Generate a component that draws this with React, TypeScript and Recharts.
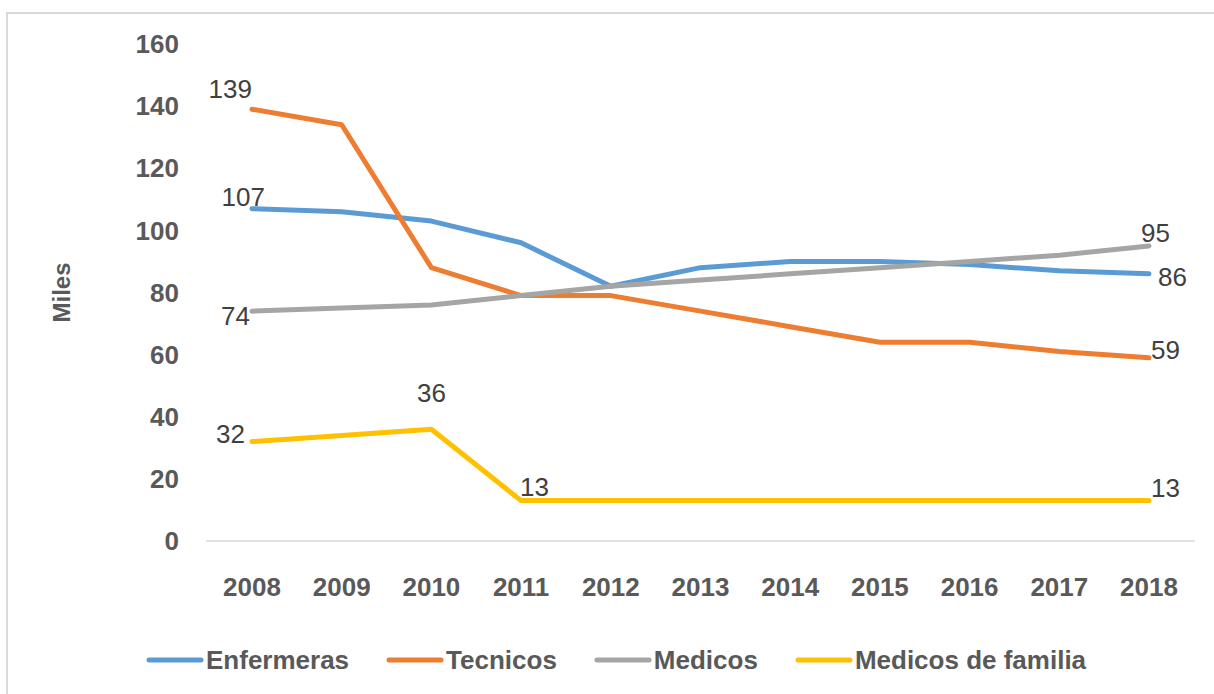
import { LineChart, Line, XAxis, YAxis, Legend, LabelList } from "recharts";

const years = ["2008", "2009", "2010", "2011", "2012", "2013", "2014", "2015", "2016", "2017", "2018"];
const enfermeras = [107, 106, 103, 96, 82, 88, 90, 90, 89, 87, 86];
const tecnicos = [139, 134, 88, 79, 79, 74, 69, 64, 64, 61, 59];
const medicos = [74, 75, 76, 79, 82, 84, 86, 88, 90, 92, 95];
const medicosFamilia = [32, 34, 36, 13, 13, 13, 13, 13, 13, 13, 13];
const yTicks = [0, 20, 40, 60, 80, 100, 120, 140, 160];

const series = [
  { key: "enfermeras", name: "Enfermeras", color: "#5B9BD5" },
  { key: "tecnicos", name: "Tecnicos", color: "#ED7D31" },
  { key: "medicos", name: "Medicos", color: "#A5A5A5" },
  { key: "familia", name: "Medicos de familia", color: "#FFC000" },
];

// which points carry a value label, and where it sits relative to the point
type LabelPos = { anchor: "start" | "middle" | "end"; dx: number; dy: number };
const labelSpots: Record<string, Record<number, LabelPos>> = {
  enfermeras: { 0: { anchor: "end", dx: 13, dy: -12 }, 10: { anchor: "start", dx: 9, dy: 3 } },
  tecnicos: { 0: { anchor: "end", dx: 0, dy: -20 }, 10: { anchor: "start", dx: 2, dy: -8 } },
  medicos: { 0: { anchor: "end", dx: -2, dy: 5 }, 10: { anchor: "start", dx: -8, dy: -13 } },
  familia: {
    0: { anchor: "end", dx: -7, dy: -8 },
    2: { anchor: "middle", dx: 0, dy: -36 },
    3: { anchor: "start", dx: -1, dy: -14 },
    10: { anchor: "start", dx: 2, dy: -13 },
  },
};

const data = years.map((year, i) => ({
  year,
  enfermeras: enfermeras[i],
  tecnicos: tecnicos[i],
  medicos: medicos[i],
  familia: medicosFamilia[i],
}));

const FONT = "'Liberation Sans', Arial, sans-serif";
const TEXT = "#595959";

function makeLabel(seriesKey: string) {
  return (props: any) => {
    const spot = labelSpots[seriesKey][props.index];
    if (!spot) return null;
    return (
      <text
        x={props.x + spot.dx}
        y={props.y + spot.dy + 9}
        textAnchor={spot.anchor}
        fontFamily={FONT}
        fontSize={26}
        fill="#404040"
      >
        {props.value}
      </text>
    );
  };
}

function MilesLabel(props: any) {
  const vb = props.viewBox;
  const cx = vb.x + 4;
  const cy = vb.y + vb.height / 2;
  return (
    <text
      x={cx}
      y={cy}
      transform={`rotate(-90, ${cx}, ${cy})`}
      textAnchor="middle"
      dominantBaseline="central"
      fontFamily={FONT}
      fontSize={24}
      fontWeight="bold"
      fill={TEXT}
    >
      Miles
    </text>
  );
}

function LegendContent() {
  return (
    <div
      style={{
        display: "flex",
        alignItems: "center",
        height: 30,
        paddingLeft: 146,
        fontFamily: FONT,
        fontSize: 26,
        fontWeight: "bold",
        color: TEXT,
      }}
    >
      {series.map((s) => (
        <div key={s.key} style={{ display: "flex", alignItems: "center", marginRight: 37 }}>
          <svg width={58} height={10}>
            <line x1={3} y1={5} x2={55} y2={5} stroke={s.color} strokeWidth={5} strokeLinecap="round" />
          </svg>
          <span style={{ marginLeft: 2, lineHeight: "30px" }}>{s.name}</span>
        </div>
      ))}
    </div>
  );
}

export default function App() {
  return (
    <div style={{ position: "absolute", left: 0, top: 0, width: 1214, height: 694, overflow: "hidden", background: "#fff" }}>
      <div
        style={{
          position: "absolute",
          left: 6,
          top: 12,
          width: 1240,
          height: 720,
          border: "2px solid #d9d9d9",
        }}
      />
      <div style={{ position: "absolute", left: 0, top: 0 }}>
        <LineChart width={1214} height={694} data={data} margin={{ top: 44, right: 19, bottom: 19, left: 57 }}>
          <XAxis
            dataKey="year"
            padding={{ left: 46, right: 46 }}
            height={104}
            tickLine={false}
            tickSize={0}
            tickMargin={37}
            axisLine={{ stroke: "#d9d9d9", strokeWidth: 1.5 }}
            tick={{ fill: TEXT, fontFamily: FONT, fontSize: 26, fontWeight: "bold" }}
          />
          <YAxis
            width={149}
            domain={[0, 160]}
            ticks={yTicks}
            interval={0}
            axisLine={false}
            tickLine={false}
            tickSize={0}
            tickMargin={27}
            tick={{ fill: TEXT, fontFamily: FONT, fontSize: 26, fontWeight: "bold" }}
            label={<MilesLabel />}
          />
          <Legend
            verticalAlign="bottom"
            content={<LegendContent />}
            wrapperStyle={{ left: 0, top: 645, width: 1214, height: 30 }}
          />
          {series.map((s) => (
            <Line
              key={s.key}
              dataKey={s.key}
              name={s.name}
              stroke={s.color}
              strokeWidth={5}
              strokeLinecap="round"
              strokeLinejoin="round"
              dot={false}
              activeDot={false}
              isAnimationActive={false}
            >
              <LabelList dataKey={s.key} content={makeLabel(s.key)} />
            </Line>
          ))}
        </LineChart>
      </div>
    </div>
  );
}
